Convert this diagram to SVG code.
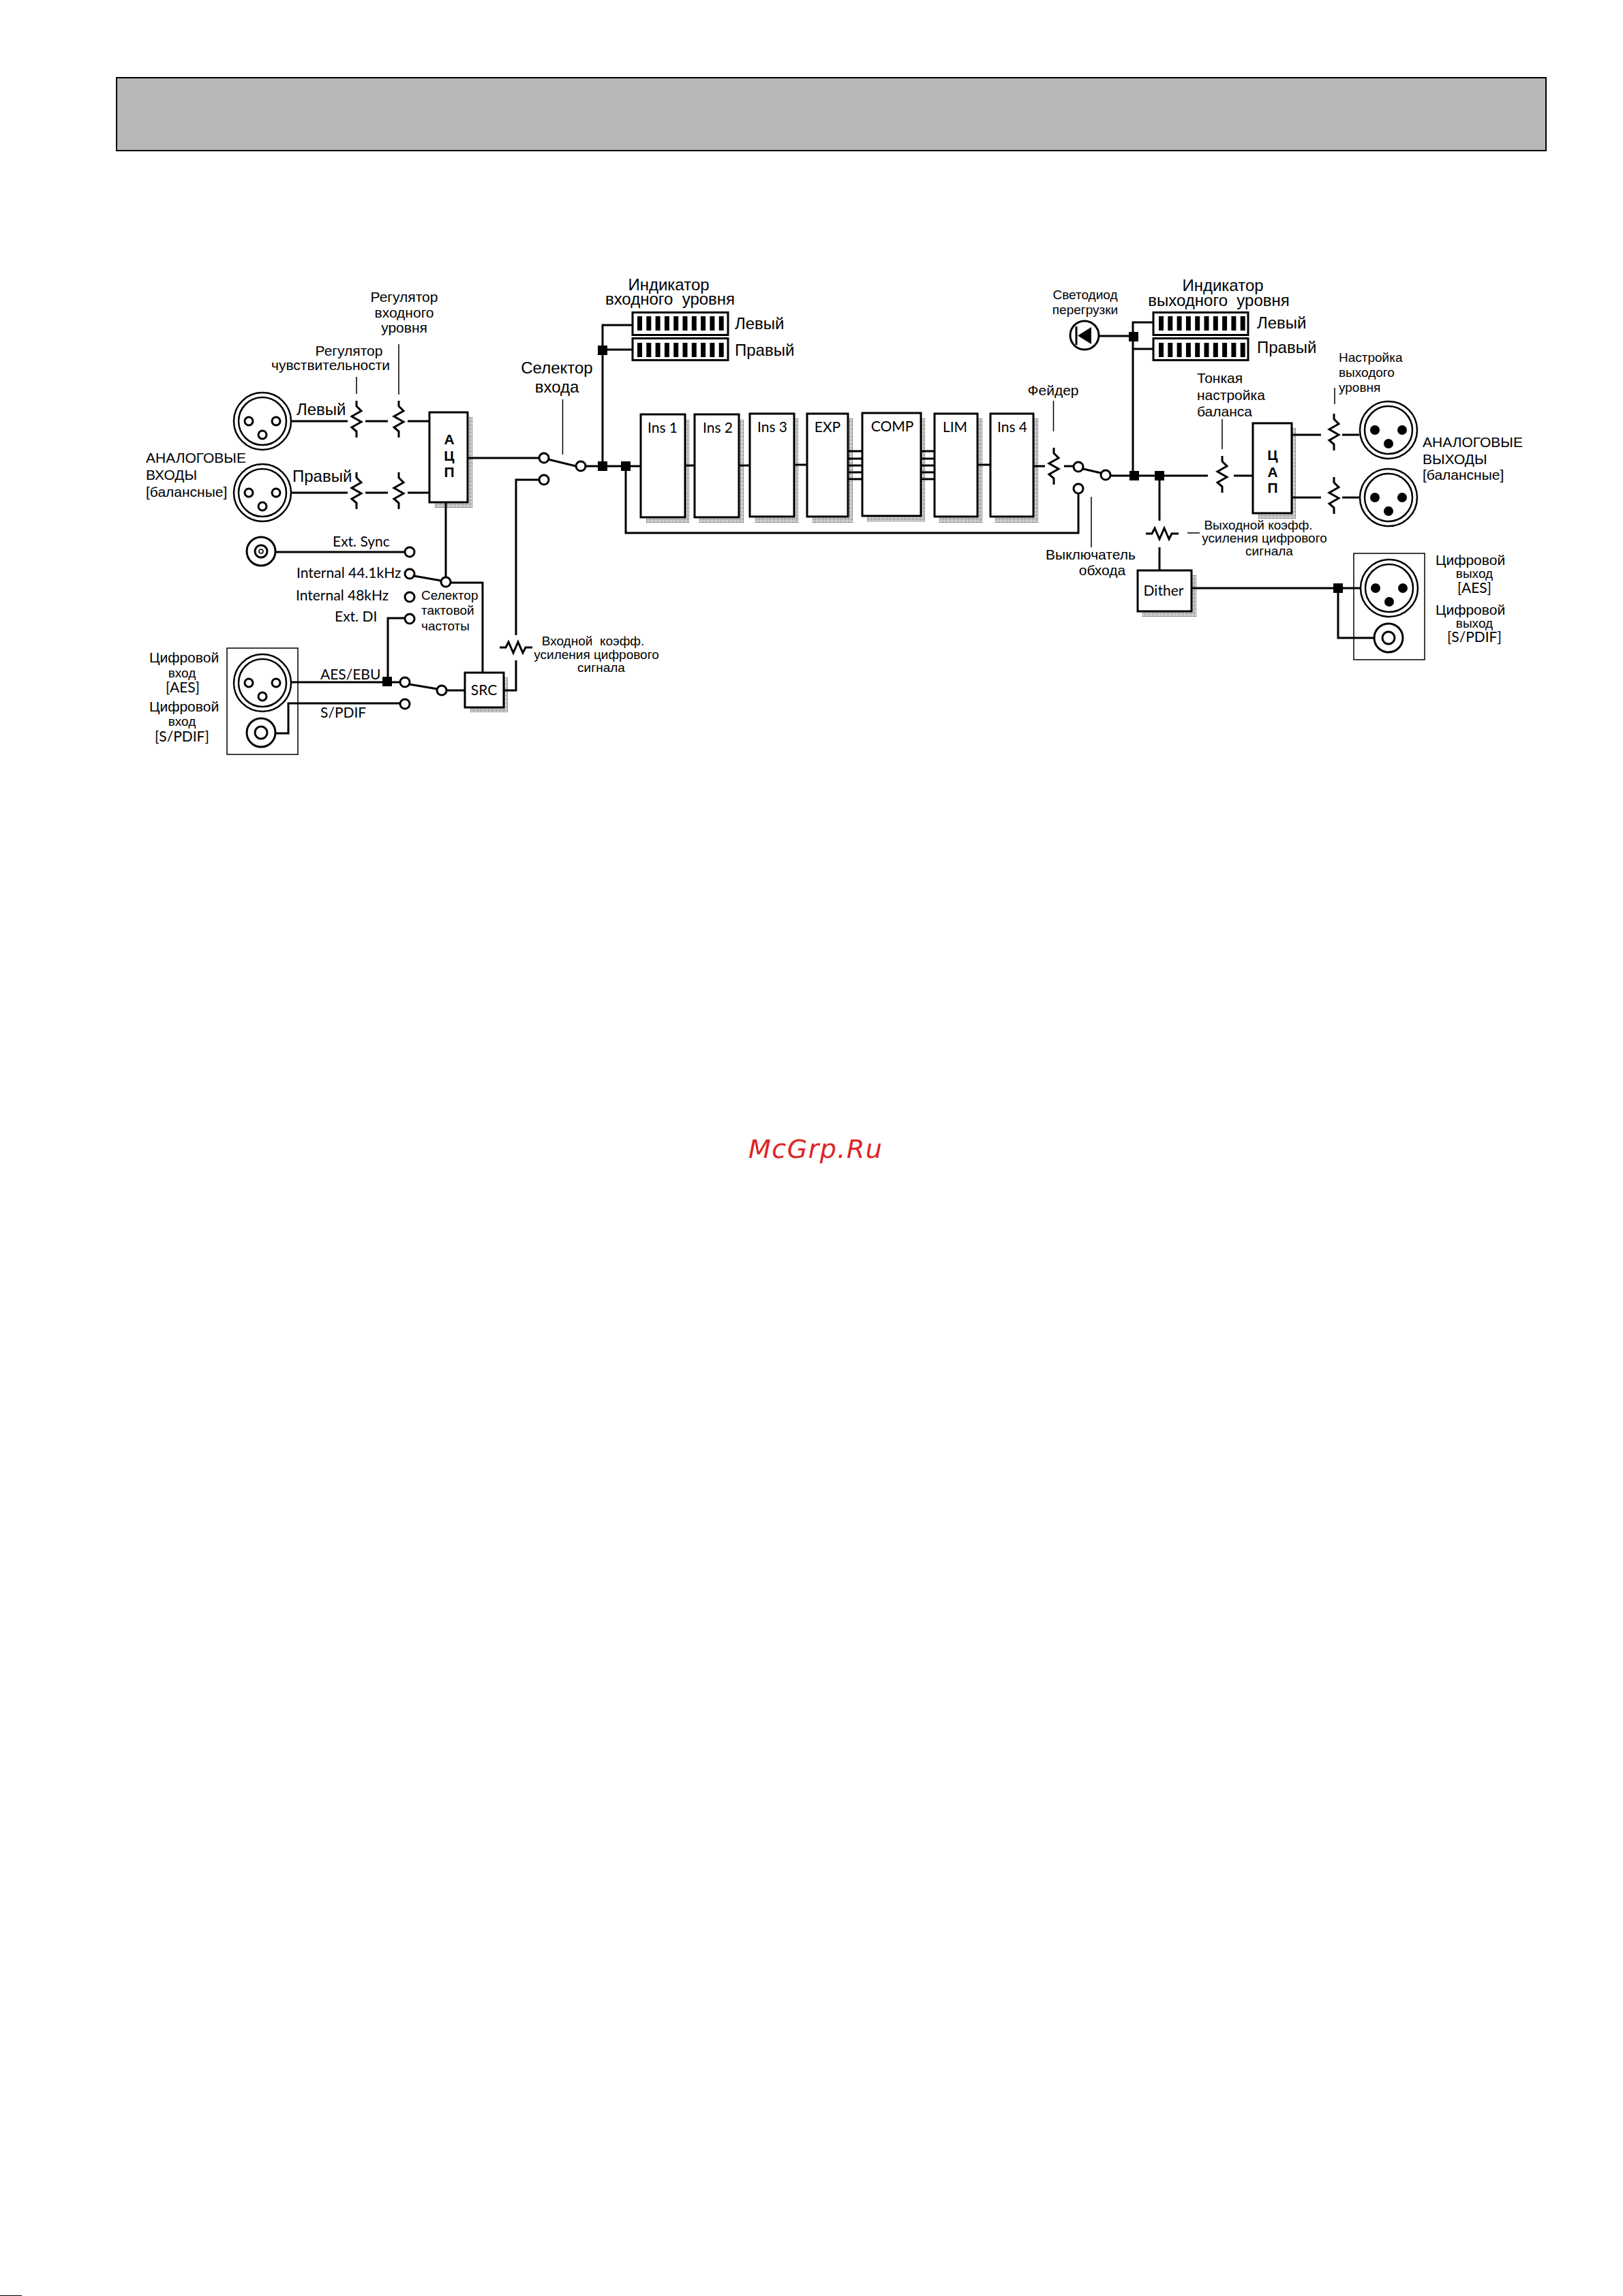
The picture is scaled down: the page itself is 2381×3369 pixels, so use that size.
<svg xmlns="http://www.w3.org/2000/svg" xmlns:xlink="http://www.w3.org/1999/xlink" width="2381" height="3369" viewBox="0 0 2381 3369">
<style>
text{font-family:"Liberation Sans",Arial,sans-serif;fill:#000;white-space:pre}
.g{font-family:Lato,"Liberation Sans",sans-serif;font-size:21px}
.m{text-anchor:middle}
.f24{font-size:24px}.f21{font-size:21px}.f19{font-size:19px}
.h{font-size:21px;font-weight:bold;text-anchor:middle}
.w{fill:none;stroke:#000;stroke-width:3}
.l{fill:none;stroke:#000;stroke-width:1.5}
.bx{fill:#fff;stroke:#000;stroke-width:3}
.sh{fill:url(#dots)}
.j{fill:#000}
.term{fill:#fff;stroke:#000;stroke-width:3}
</style>
<defs>
<pattern id="dots" width="2" height="2" patternUnits="userSpaceOnUse"><rect width="1" height="1" fill="#000"/></pattern>
<g id="rv"><path class="w" d="M0,-27V-19L7,-12L-7,-4L7,4L-7,12L0,18V27"/></g>
<g id="rh"><path class="w" d="M-24,0H-15L-11,-8L-4,8L3,-8L10,8L14,0H24"/></g>
<g id="xlr"><circle r="42" fill="#fff" stroke="#000" stroke-width="2.500"/><circle r="35" fill="none" stroke="#000" stroke-width="2.500"/></g>
<g id="xi"><use xlink:href="#xlr" href="#xlr"/><g class="term"><circle cx="-20" r="6"/><circle cx="20" r="6"/><circle cy="20" r="6"/></g></g>
<g id="xo"><use xlink:href="#xlr" href="#xlr"/><circle cx="-20" r="7"/><circle cx="20" r="7"/><circle cy="20" r="7"/></g>
<g id="rca"><circle r="21" fill="#fff" stroke="#000" stroke-width="3"/><circle r="9" fill="none" stroke="#000" stroke-width="3"/></g>
<g id="bars"><rect x="0" width="7" height="21"/><rect x="13.3" width="7" height="21"/><rect x="26.6" width="7" height="21"/><rect x="39.9" width="7" height="21"/><rect x="53.2" width="7" height="21"/><rect x="66.5" width="7" height="21"/><rect x="79.8" width="7" height="21"/><rect x="93.1" width="7" height="21"/><rect x="106.4" width="7" height="21"/><rect x="119.7" width="7" height="21"/></g>
</defs>
<rect width="2381" height="3369" fill="#fff"/>
<rect id="header" x="171" y="114" width="2097" height="107" fill="#b8b8b8" stroke="#000" stroke-width="2"/>
<rect x="0" y="3368" width="32" height="1" fill="#000"/>

<g id="connectors">
<path class="w" d="M427,618H510M536,618H569M598,618H630"/>
<path class="w" d="M427,723H510M536,723H569M598,723H630"/>
<path class="w" d="M686,672H791M804,674L845,684M852,684H940"/>
<path class="w" d="M884,684V477H928M884,513H928"/>
<path class="w" d="M791,704H757V932M757,969V1013H739"/>
<path class="w" d="M405,810H594"/>
<path class="w" d="M654,737V854M607,845L647,852M661,855H708V987"/>
<path class="w" d="M594,907H569V1000"/>
<path class="w" d="M427,1001H588M600,1004L642,1011M655,1013H682"/>
<path class="w" d="M405,1076H423V1032H588"/>
<path class="w" d="M1005,683H1019M1084,683H1100M1165,682H1184M1434,682H1453M1516,684H1533M1561,684H1575"/>
<path class="w" d="M1244,662H1265M1244,673H1265M1244,683H1265M1244,693H1265M1244,703H1265"/>
<path class="w" d="M1351,662H1371M1351,673H1371M1351,683H1371M1351,693H1371M1351,703H1371"/>
<path class="w" d="M1589,688L1615,694M1629,698H1772M1810,698H1838"/>
<path class="w" d="M1582,724V782H918V684"/>
<path class="w" d="M1662,698V473H1692M1662,512H1692M1612,493H1662"/>
<path class="w" d="M1701,699V764M1701,803V837"/>
<path class="w" d="M1895,638H1938M1969,638H1994M1895,730H1938M1969,730H1994"/>
<path class="w" d="M1748,863H1996M1963,863V936H2015"/>
<g class="l">
<path d="M523,553V578M585,505V579M825.500,586V667M1545.500,588V633M1793,615V659M1958,569V593M1601,729V803M1742,782H1760"/>
</g>
<g class="j">
<rect x="877" y="507" width="14" height="14"/><rect x="877" y="677" width="14" height="14"/><rect x="911" y="677" width="14" height="14"/>
<rect x="561" y="993" width="14" height="14"/><rect x="1657" y="691" width="14" height="14"/><rect x="1694" y="691" width="14" height="14"/>
<rect x="1656" y="487" width="14" height="14"/><rect x="1956" y="856" width="14" height="14"/>
</g>
</g>

<g id="analog-in-L"><use xlink:href="#xi" href="#xi" x="385" y="618"/></g>
<g id="analog-in-R"><use xlink:href="#xi" href="#xi" x="385" y="723"/></g>
<g id="res-in"><use xlink:href="#rv" href="#rv" x="523" y="615"/><use xlink:href="#rv" href="#rv" x="585" y="615"/><use xlink:href="#rv" href="#rv" x="523" y="720"/><use xlink:href="#rv" href="#rv" x="585" y="720"/></g>
<g id="labels-in">
<text class="f21 m" x="593" y="443">Регулятор</text><text class="f21 m" x="593" y="466">входного</text><text class="f21 m" x="593" y="488">уровня</text>
<text class="f21 m" x="512" y="522">Регулятор</text><text class="f21 m" x="485" y="543">чувствительности</text>
<text class="f24" x="435" y="609">Левый</text><text class="f24" x="429" y="707">Правый</text>
<text class="f21" x="214" y="679">АНАЛОГОВЫЕ</text><text class="f21" x="214" y="704">ВХОДЫ</text><text class="f21" x="214" y="729">[балансные]</text>
<text class="f24 m" x="817" y="548">Селектор</text><text class="f24 m" x="817" y="576">входа</text>
</g>
<g id="adc"><rect class="sh" x="637" y="612" width="56" height="133"/><rect class="bx" x="630" y="605" width="56" height="132"/><text class="h" x="659" y="652">А</text><text class="h" x="659" y="676">Ц</text><text class="h" x="659" y="700">П</text></g>
<g id="sw-input"><circle class="term" cx="798" cy="672" r="7"/><circle class="term" cx="852" cy="684" r="7"/><circle class="term" cx="798" cy="704" r="7"/></g>
<g id="meter-in">
<rect class="bx" x="928" y="458.500" width="140" height="33"/><rect class="bx" x="928" y="496.500" width="140" height="32"/>
<use xlink:href="#bars" href="#bars" x="935" y="464"/><use xlink:href="#bars" href="#bars" x="935" y="503"/>
<text class="f24 m" x="981" y="426">Индикатор</text><text class="f24 m" x="983" y="447">входного  уровня</text>
<text class="f24" x="1078" y="483">Левый</text><text class="f24" x="1078" y="522">Правый</text>
</g>

<g id="clock">
<use xlink:href="#rca" href="#rca" x="383" y="809"/><circle cx="383" cy="809" r="3" fill="none" stroke="#000" stroke-width="1.500"/>
<circle class="term" cx="601" cy="810" r="7"/><circle class="term" cx="601" cy="842" r="7"/><circle class="term" cx="601" cy="876" r="7"/><circle class="term" cx="601" cy="908" r="7"/><circle class="term" cx="654" cy="854" r="7"/>
<text class="g" x="488" y="802">Ext. Sync</text><text class="g" x="435" y="848">Internal 44.1kHz</text><text class="g" x="434" y="881">Internal 48kHz</text><text class="g" x="491" y="912">Ext. DI</text>
<text class="f19" x="618" y="880">Селектор</text><text class="f19" x="618" y="902">тактовой</text><text class="f19" x="618" y="925">частоты</text>
</g>
<g id="digital-in">
<rect class="l" x="333" y="951" width="104" height="156"/>
<use xlink:href="#xi" href="#xi" x="385" y="1002"/><use xlink:href="#rca" href="#rca" x="383" y="1075"/>
<circle class="term" cx="594" cy="1001" r="7"/><circle class="term" cx="594" cy="1033" r="7"/><circle class="term" cx="648" cy="1013" r="7"/>
<text class="f21 m" x="270" y="972">Цифровой</text><text class="f19 m" x="267" y="994">вход</text><text class="g m" x="268" y="1016">[AES]</text>
<text class="f21 m" x="270" y="1044">Цифровой</text><text class="f19 m" x="267" y="1065">вход</text><text class="g m" x="267" y="1088">[S/PDIF]</text>
<text class="g" x="470" y="997">AES/EBU</text><text class="g" x="470" y="1053">S/PDIF</text>
</g>
<g id="src"><rect class="sh" x="689" y="994" width="57" height="52"/><rect class="bx" x="682" y="987" width="57" height="51"/><text class="g m" x="710" y="1020">SRC</text></g>
<g id="in-gain"><use xlink:href="#rh" href="#rh" x="757" y="950"/>
<text class="f19 m" x="870" y="947">Входной  коэфф.</text><text class="f19 m" x="875" y="967">усиления цифрового</text><text class="f19 m" x="882" y="986">сигнала</text></g>

<g id="ins1"><rect class="sh" x="947" y="615" width="65" height="153"/><rect class="bx" x="940" y="608" width="65" height="151"/><text class="g m" x="972" y="635">Ins 1</text></g>
<g id="ins2"><rect class="sh" x="1026" y="615" width="65" height="153"/><rect class="bx" x="1019" y="608" width="65" height="151"/><text class="g m" x="1053" y="635">Ins 2</text></g>
<g id="ins3"><rect class="sh" x="1107" y="614" width="65" height="153"/><rect class="bx" x="1100" y="607" width="65" height="151"/><text class="g m" x="1133" y="634">Ins 3</text></g>
<g id="exp"><rect class="sh" x="1191" y="614" width="60" height="153"/><rect class="bx" x="1184" y="607" width="60" height="151"/><text class="g m" x="1214" y="634">EXP</text></g>
<g id="comp"><rect class="sh" x="1272" y="613" width="86" height="153"/><rect class="bx" x="1265" y="606" width="86" height="151"/><text class="g m" x="1309" y="633">COMP</text></g>
<g id="lim"><rect class="sh" x="1378" y="614" width="63" height="153"/><rect class="bx" x="1371" y="607" width="63" height="151"/><text class="g m" x="1401" y="634">LIM</text></g>
<g id="ins4"><rect class="sh" x="1460" y="614" width="63" height="153"/><rect class="bx" x="1453" y="607" width="63" height="151"/><text class="g m" x="1485" y="634">Ins 4</text></g>

<g id="fader"><use xlink:href="#rv" href="#rv" x="1546" y="684"/><text class="f21 m" x="1545" y="580">Фейдер</text></g>
<g id="sw-bypass"><circle class="term" cx="1582" cy="685" r="7"/><circle class="term" cx="1622" cy="697" r="7"/><circle class="term" cx="1582" cy="717" r="7"/>
<text class="f21 m" x="1600" y="821">Выключатель</text><text class="f21 m" x="1617" y="844">обхода</text></g>
<g id="led"><circle cx="1591" cy="492" r="21" fill="#fff" stroke="#000" stroke-width="3"/><path d="M1601,480V505L1581,492.500Z"/><path class="w" d="M1579,479V506"/>
<text class="f19 m" x="1592" y="439">Светодиод</text><text class="f19 m" x="1592" y="461">перегрузки</text></g>
<g id="meter-out">
<rect class="bx" x="1692" y="458.500" width="139" height="33"/><rect class="bx" x="1692" y="496.500" width="139" height="32"/>
<use xlink:href="#bars" href="#bars" x="1700" y="464"/><use xlink:href="#bars" href="#bars" x="1700" y="503"/>
<text class="f24 m" x="1794" y="427">Индикатор</text><text class="f24 m" x="1788" y="449">выходного  уровня</text>
<text class="f24" x="1844" y="482">Левый</text><text class="f24" x="1844" y="518">Правый</text>
</g>
<g id="balance"><use xlink:href="#rv" href="#rv" x="1793" y="696"/>
<text class="f21" x="1756" y="562">Тонкая</text><text class="f21" x="1756" y="587">настройка</text><text class="f21" x="1756" y="611">баланса</text></g>
<g id="dac"><rect class="sh" x="1845" y="628" width="57" height="133"/><rect class="bx" x="1838" y="621" width="57" height="132"/><text class="h" x="1867" y="675">Ц</text><text class="h" x="1867" y="700">А</text><text class="h" x="1867" y="723">П</text></g>
<g id="analog-out">
<use xlink:href="#rv" href="#rv" x="1957" y="634"/><use xlink:href="#rv" href="#rv" x="1957" y="727"/>
<use xlink:href="#xo" href="#xo" x="2037" y="631"/><use xlink:href="#xo" href="#xo" x="2037" y="730"/>
<text class="f19" x="1964" y="531">Настройка</text><text class="f19" x="1964" y="553">выходого</text><text class="f19" x="1964" y="575">уровня</text>
<text class="f21" x="2087" y="656">АНАЛОГОВЫЕ</text><text class="f21" x="2087" y="681">ВЫХОДЫ</text><text class="f21" x="2087" y="704">[балансные]</text>
</g>
<g id="out-gain"><use xlink:href="#rh" href="#rh" x="1705" y="783"/>
<text class="f19 m" x="1846" y="777">Выходной коэфф.</text><text class="f19 m" x="1855" y="796">усиления цифрового</text><text class="f19 m" x="1862" y="815">сигнала</text></g>
<g id="dither"><rect class="sh" x="1676" y="844" width="79" height="61"/><rect class="bx" x="1669" y="837" width="79" height="60"/><text class="g m" x="1707" y="874">Dither</text></g>
<g id="digital-out">
<rect class="l" x="1986" y="812" width="104" height="156"/>
<use xlink:href="#xo" href="#xo" x="2038" y="863"/><use xlink:href="#rca" href="#rca" x="2037" y="936"/>
<text class="f21 m" x="2157" y="829">Цифровой</text><text class="f19 m" x="2163" y="848">выход</text><text class="g m" x="2163" y="870">[AES]</text>
<text class="f21 m" x="2157" y="902">Цифровой</text><text class="f19 m" x="2163" y="921">выход</text><text class="g m" x="2163" y="942">[S/PDIF]</text>
</g>
<text id="watermark" x="1098" y="1699" style="font-family:'DejaVu Sans',sans-serif;font-style:oblique;fill:#dc2424;letter-spacing:1.5px" font-size="38">McGrp.Ru</text>
</svg>
